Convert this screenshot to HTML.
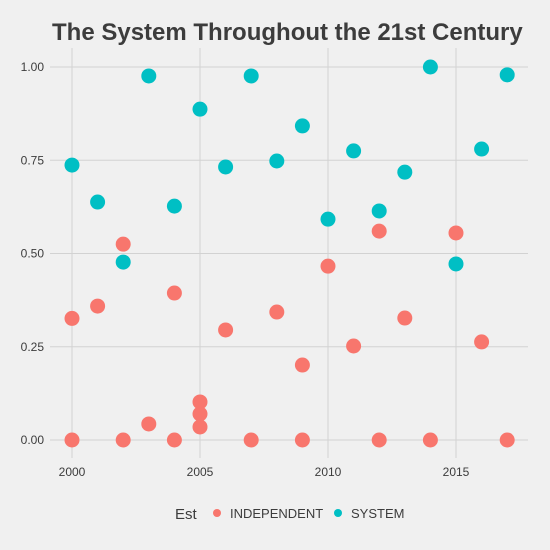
<!DOCTYPE html>
<html><head><meta charset="utf-8"><style>
body{margin:0;background:#f0f0f0;}
svg{display:block;font-family:"Liberation Sans",sans-serif;}
</style></head><body>
<svg id="chart" width="550" height="550">
<rect width="550" height="550" fill="#f0f0f0"/>
<text x="52" y="40" font-size="24" font-weight="bold" fill="#3c3c3c">The System Throughout the 21st Century</text>
<g id="grid"></g><g id="pts"></g><g id="axes"></g>
<g>
<text x="175" y="519" font-size="15" fill="#3c3c3c">Est</text>
<circle cx="217" cy="513" r="4" fill="#F8766D"/>
<text x="230" y="518" font-size="13" fill="#3c3c3c">INDEPENDENT</text>
<circle cx="338" cy="513" r="4" fill="#00BFC4"/>
<text x="351" y="518" font-size="13" fill="#3c3c3c">SYSTEM</text>
</g>
</svg>
<script>
const sysYears=[2000,2001,2002,2003,2004,2005,2006,2007,2008,2009,2010,2011,2012,2013,2014,2015,2016,2017];
const sysValues=[0.737,0.638,0.477,0.976,0.627,0.887,0.732,0.976,0.748,0.842,0.592,0.775,0.614,0.718,1.0,0.472,0.78,0.979];
const indYears=[2000,2000,2001,2002,2002,2003,2004,2004,2005,2005,2005,2006,2007,2008,2009,2009,2010,2011,2012,2012,2013,2014,2015,2016,2017];
const indValues=[0.326,0,0.359,0.525,0,0.043,0.394,0,0.102,0.07,0.035,0.295,0,0.343,0.201,0,0.466,0.252,0.56,0,0.327,0,0.555,0.263,0];
const xTicks=[2000,2005,2010,2015];
const yTicks=[0,0.25,0.5,0.75,1.0];
const yTickLabels=["0.00","0.25","0.50","0.75","1.00"];
const NS="http://www.w3.org/2000/svg";
const xS=v=>72+(v-2000)*25.6;
const yS=v=>440-v*373;
const grid=document.getElementById('grid'),pts=document.getElementById('pts'),axes=document.getElementById('axes');
function mk(tag,attrs,parent){const e=document.createElementNS(NS,tag);for(const k in attrs)e.setAttribute(k,attrs[k]);parent.appendChild(e);return e;}
xTicks.forEach(t=>{
 const l=mk('line',{x1:xS(t),x2:xS(t),y1:48,y2:458,stroke:'#d2d2d2','stroke-width':1},grid);
 
 
 const tx=mk('text',{x:xS(t),y:476,'text-anchor':'middle','font-size':12,fill:'#3c3c3c'},axes);
 tx.textContent=t;
 
 
});
yTicks.forEach((t,i)=>{
 const l=mk('line',{x1:50,x2:528,y1:yS(t),y2:yS(t),stroke:'#d2d2d2','stroke-width':1},grid);
 
 
 const tx=mk('text',{x:44,y:yS(t)+4,'text-anchor':'end','font-size':12,fill:'#3c3c3c'},axes);
 tx.textContent=yTickLabels[i];
 
 
});
indYears.forEach((yr,i)=>{
 const c=mk('circle',{cx:xS(yr),cy:yS(indValues[i]),r:7.5,fill:'#F8766D'},pts);
 
 
});
sysYears.forEach((yr,i)=>{
 const c=mk('circle',{cx:xS(yr),cy:yS(sysValues[i]),r:7.5,fill:'#00BFC4'},pts);
 
 
});
</script>
</body></html>
